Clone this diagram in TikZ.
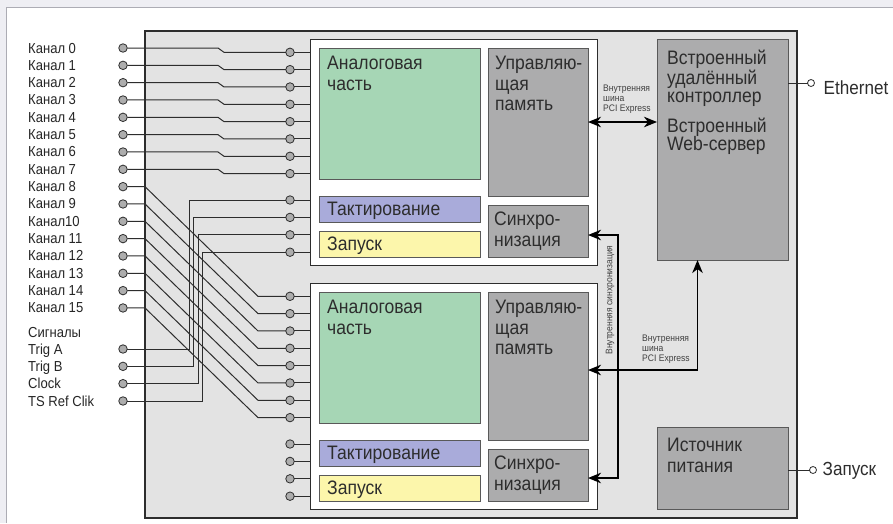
\documentclass[tikz,border=0pt]{standalone}
\usepackage{fontspec}
\setmainfont{Liberation Sans}[FakeStretch=0.9]
\usetikzlibrary{arrows.meta,positioning}
\definecolor{framebg}{RGB}{238,238,243}
\definecolor{framegray}{RGB}{172,172,180}
\definecolor{chassisgray}{RGB}{227,227,227}
\definecolor{anagreen}{RGB}{166,214,181}
\definecolor{clkblue}{RGB}{169,171,218}
\definecolor{trgyellow}{RGB}{252,246,171}
\definecolor{memgray}{RGB}{172,172,173}
\definecolor{inkgray}{RGB}{45,45,45}
\tikzstyle{chassis} = [draw=inkgray, line width=1.1pt, fill=chassisgray, anchor=north west, outer sep=0pt]
\tikzstyle{modbox} = [draw=inkgray, line width=1pt, fill=white, anchor=north west, outer sep=0pt]
\tikzstyle{blk} = [draw=black!65, line width=0.9pt, anchor=north west, outer sep=0pt]
\tikzstyle{boxtext} = [inner sep=0pt, anchor=north west, align=left, text=inkgray, font=\fontsize{19.5}{20.5}\selectfont]
\tikzstyle{chlabel} = [inner sep=0pt, anchor=base west, text=black!85, font=\fontsize{14.5}{16}\selectfont]
\tikzstyle{smalltext} = [inner sep=0pt, align=left, text=black!75, font=\fontsize{9.5}{10}\selectfont]
\tikzstyle{jack} = [circle, draw=inkgray, line width=0.8pt, fill=black!32, minimum size=8.5pt, inner sep=0pt, outer sep=0pt]
\tikzstyle{ojack} = [circle, draw=inkgray, line width=0.8pt, fill=white, minimum size=7pt, inner sep=0pt, outer sep=0pt]
\tikzstyle{wire} = [draw=inkgray, line width=1pt]
\tikzstyle{bus} = [line width=1.7pt, arrows={Stealth[length=13pt,width=10.5pt,inset=4pt]-Stealth[length=13pt,width=10.5pt,inset=4pt]}]
\newcommand{\daqmodule}[2]{
	\node(#1) at (310,39+#2) [modbox, minimum width=287pt, minimum height=226pt] {};
	\node(#1ana) at (319,48+#2) [blk, fill=anagreen, minimum width=161pt, minimum height=131pt] {};
	\node(#1clk) at (319,196+#2) [blk, fill=clkblue, minimum width=161pt, minimum height=26pt] {};
	\node(#1trg) at (319,231+#2) [blk, fill=trgyellow, minimum width=161pt, minimum height=26pt] {};
	\node(#1mem) at (488,48+#2) [blk, fill=memgray, minimum width=100pt, minimum height=148pt] {};
	\node(#1syn) at (488,205+#2) [blk, fill=memgray, minimum width=100pt, minimum height=52pt] {};
	\node(#1anatext) at ([shift={(8,8)}]#1ana.north west) [boxtext] {Аналоговая\\часть};
	\node(#1clktext) at ([shift={(8,-7)}]#1clk.south west) [boxtext, anchor=base west] {Тактирование};
	\node(#1trgtext) at ([shift={(8,-7)}]#1trg.south west) [boxtext, anchor=base west] {Запуск};
	\node(#1memtext) at ([shift={(7,8)}]#1mem.north west) [boxtext] {Управляю-\\щая\\память};
	\node(#1syntext) at ([shift={(6,7)}]#1syn.north west) [boxtext] {Синхро-\\низация};
	\foreach \i in {0,...,7} {
		\node(#1p\i) at (290,52.3+17.33*\i+#2) [jack] {};
		\draw[wire] (#1p\i) -- (#1p\i -| #1.west);
	}
	\foreach \i in {0,...,3} {
		\node(#1c\i) at (290,200+17.4*\i+#2) [jack] {};
		\draw[wire] (#1c\i) -- (#1c\i -| #1.west);
	}
}

\begin{document}
\begin{tikzpicture}[x=1pt,y=-1pt]
	\useasboundingbox (0,0) rectangle (893,523);
	\fill[framebg] (0,0) rectangle (893,523);
	\fill[white] (6,7) rectangle (893,523);
	\draw[framegray, line width=1pt] (6,523) -- (6,7) -- (893,7);

	\node(chassis) at (145,31) [chassis, minimum width=652pt, minimum height=487pt] {};
	\daqmodule{ma}{0}
	\daqmodule{mb}{244}

	\node(ctrl) at (657,39) [blk, fill=memgray, minimum width=131pt, minimum height=221pt] {};
	\node(ctrltext) at ([shift={(10,11)}]ctrl.north west) [boxtext, font=\fontsize{19.5}{18.5}\selectfont] {Встроенный\\удалённый\\контроллер\\[10pt]Встроенный\\Web-сервер};
	\node(power) at (657,427) [blk, fill=memgray, minimum width=131pt, minimum height=82pt] {};
	\node(powertext) at ([shift={(10,11)}]power.north west) [boxtext] {Источник\\питания};

	\node(eth) at (811,83) [ojack] {};
	\draw[wire] (eth) -- (eth -| ctrl.east);
	\node(ethlbl) at ([shift={(9,11)}]eth.east) [boxtext, anchor=base west, font=\fontsize{19}{20}\selectfont] {Ethernet};
	\node(pwrjack) at (813,470) [ojack] {};
	\draw[wire] (pwrjack) -- (pwrjack -| power.east);
	\node(pwrlbl) at ([shift={(6,5)}]pwrjack.east) [boxtext, anchor=base west, font=\fontsize{19}{20}\selectfont] {Запуск};

	\foreach \i in {0,...,15} {
		\node(in\i) at (123,48+17.33*\i) [jack] {};
		\node(inlbl\i) at ([shift={(-95,5)}]in\i) [chlabel] {\ifnum\i=10 Канал10\else Канал \i\fi};
	}
	\node(siglbl) at (28,337) [chlabel] {Сигналы};
	\foreach \i/\t in {0/Trig A,1/Trig B,2/Clock,3/TS Ref Clik} {
		\node(sig\i) at (123,349+17.33*\i) [jack] {};
		\node(siglbl\i) at ([shift={(-95,5)}]sig\i) [chlabel] {\t};
		\draw[wire] (sig\i) -| (189+4.5*\i,200+17.4*\i) -- (mac\i);
	}
	\foreach \i in {0,...,7}
		\draw[wire] (in\i) -- (218,48+17.33*\i) -- (224,52.3+17.33*\i) -- (map\i);
	\foreach \i [evaluate=\i as \j using int(\i+8)] in {0,...,7}
		\draw[wire] (in\j) -- (145,48+17.33*\j) -- (258,296.3+17.33*\i) -- (mbp\i);

	\draw[bus] (mamem.east) -- (mamem.east -| ctrl.west);
	\node(pcilbl1) at (603,85) [smalltext, anchor=north west] {Внутренняя\\шина\\PCI Express};
	\draw[bus] ([shift={(0,4)}]mbmem.east) -| ([shift={(-25,0)}]ctrl.south);
	\node(pcilbl2) at (642,335) [smalltext, anchor=north west] {Внутренняя\\шина\\PCI Express};
	\draw[bus] ([shift={(0,4)}]masyn.east) -- ++(30,0) |- ([shift={(0,3)}]mbsyn.east);
	\node(synclbl) at (610,300) [smalltext, rotate=90] {Внутренняя синхронизация};
\end{tikzpicture}
\end{document}
